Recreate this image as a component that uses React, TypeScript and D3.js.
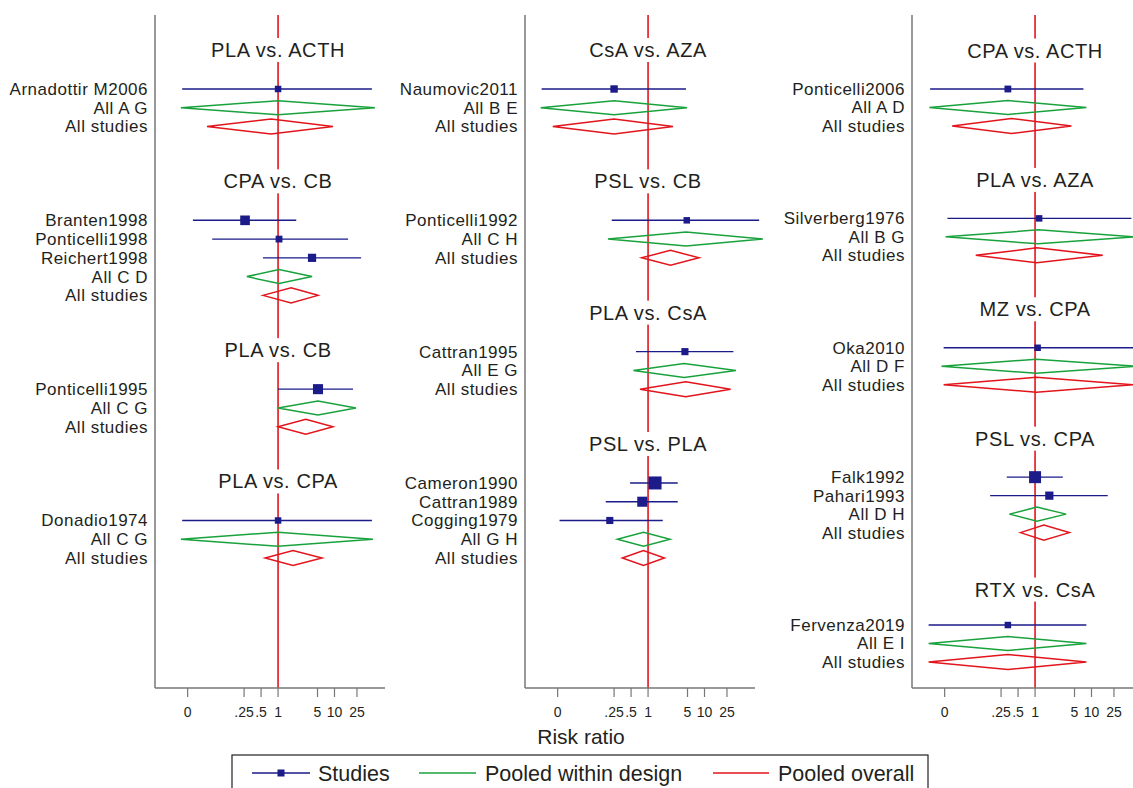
import React from "react";
import * as d3 from "d3";

// comparison headers: panel column, row slot, text
const titles = [
  { panel: 0, row: 0, text: "PLA vs. ACTH" },
  { panel: 0, row: 7, text: "CPA vs. CB" },
  { panel: 0, row: 16, text: "PLA vs. CB" },
  { panel: 0, row: 23, text: "PLA vs. CPA" },
  { panel: 1, row: 0, text: "CsA vs. AZA" },
  { panel: 1, row: 7, text: "PSL vs. CB" },
  { panel: 1, row: 14, text: "PLA vs. CsA" },
  { panel: 1, row: 21, text: "PSL vs. PLA" },
  { panel: 2, row: 0, text: "CPA vs. ACTH" },
  { panel: 2, row: 7, text: "PLA vs. AZA" },
  { panel: 2, row: 14, text: "MZ vs. CPA" },
  { panel: 2, row: 21, text: "PSL vs. CPA" },
  { panel: 2, row: 29, text: "RTX vs. CsA" },
];

// individual studies (risk ratio, 95% CI, weight)
const studies = [
  { panel: 0, row: 2, label: "Arnadottir M2006", est: 1.0, lo: 0.02, hi: 46, w: 1 },
  { panel: 0, row: 9, label: "Branten1998", est: 0.26, lo: 0.031, hi: 2.1, w: 2.2 },
  { panel: 0, row: 10, label: "Ponticelli1998", est: 1.04, lo: 0.068, hi: 17.4, w: 1.1 },
  { panel: 0, row: 11, label: "Reichert1998", est: 4.0, lo: 0.54, hi: 29.6, w: 1.6 },
  { panel: 0, row: 18, label: "Ponticelli1995", est: 5.1, lo: 1.0, hi: 21.3, w: 2.4 },
  { panel: 0, row: 25, label: "Donadio1974", est: 1.0, lo: 0.02, hi: 46, w: 1 },
  { panel: 1, row: 2, label: "Naumovic2011", est: 0.25, lo: 0.013, hi: 4.7, w: 1.3 },
  { panel: 1, row: 9, label: "Ponticelli1992", est: 4.85, lo: 0.227, hi: 93, w: 1 },
  { panel: 1, row: 16, label: "Cattran1995", est: 4.5, lo: 0.61, hi: 32.5, w: 1.2 },
  { panel: 1, row: 23, label: "Cameron1990", est: 1.33, lo: 0.48, hi: 3.36, w: 4 },
  { panel: 1, row: 24, label: "Cattran1989", est: 0.79, lo: 0.178, hi: 3.36, w: 2.4 },
  { panel: 1, row: 25, label: "Cogging1979", est: 0.21, lo: 0.027, hi: 1.82, w: 1.2 },
  { panel: 2, row: 2, label: "Ponticelli2006", est: 0.33, lo: 0.0138, hi: 7.2, w: 1.1 },
  { panel: 2, row: 9, label: "Silverberg1976", est: 1.18, lo: 0.028, hi: 51, w: 1 },
  { panel: 2, row: 16, label: "Oka2010", est: 1.11, lo: 0.024, hi: 60, w: 1 },
  { panel: 2, row: 23, label: "Falk1992", est: 1.0, lo: 0.315, hi: 3.1, w: 3.4 },
  { panel: 2, row: 24, label: "Pahari1993", est: 1.79, lo: 0.16, hi: 19.4, w: 1.6 },
  { panel: 2, row: 31, label: "Fervenza2019", est: 0.33, lo: 0.013, hi: 8.1, w: 1 },
];

// pooled within design
const designPooled = [
  { panel: 0, row: 3, label: "All A G", est: 1.0, lo: 0.019, hi: 52 },
  { panel: 0, row: 12, label: "All C D", est: 1.04, lo: 0.28, hi: 4.0 },
  { panel: 0, row: 19, label: "All C G", est: 5.1, lo: 1.0, hi: 24 },
  { panel: 0, row: 26, label: "All C G", est: 1.0, lo: 0.019, hi: 48 },
  { panel: 1, row: 3, label: "All B E", est: 0.25, lo: 0.0125, hi: 4.9 },
  { panel: 1, row: 10, label: "All C H", est: 4.7, lo: 0.195, hi: 108 },
  { panel: 1, row: 17, label: "All E G", est: 4.35, lo: 0.55, hi: 36 },
  { panel: 1, row: 26, label: "All G H", est: 0.83, lo: 0.286, hi: 2.45 },
  { panel: 2, row: 3, label: "All A D", est: 0.33, lo: 0.0134, hi: 8.1 },
  { panel: 2, row: 10, label: "All B G", est: 1.14, lo: 0.026, hi: 60 },
  { panel: 2, row: 17, label: "All D F", est: 1.05, lo: 0.022, hi: 62 },
  { panel: 2, row: 25, label: "All D H", est: 1.08, lo: 0.35, hi: 3.55 },
  { panel: 2, row: 32, label: "All E I", est: 0.33, lo: 0.013, hi: 8.1 },
];

// pooled overall ("All studies")
const overallPooled = [
  { panel: 0, row: 4, est: 0.75, lo: 0.055, hi: 9.4 },
  { panel: 0, row: 13, est: 1.7, lo: 0.54, hi: 5.1 },
  { panel: 0, row: 20, est: 3.1, lo: 1.0, hi: 9.4 },
  { panel: 0, row: 27, est: 1.84, lo: 0.59, hi: 6.0 },
  { panel: 1, row: 4, est: 0.25, lo: 0.0205, hi: 2.77 },
  { panel: 1, row: 11, est: 2.5, lo: 0.77, hi: 8.0 },
  { panel: 1, row: 18, est: 4.65, lo: 0.72, hi: 29 },
  { panel: 1, row: 27, est: 0.83, lo: 0.35, hi: 1.95 },
  { panel: 2, row: 4, est: 0.38, lo: 0.034, hi: 4.4 },
  { panel: 2, row: 11, est: 1.07, lo: 0.089, hi: 15.8 },
  { panel: 2, row: 18, est: 1.05, lo: 0.024, hi: 56 },
  { panel: 2, row: 26, est: 1.43, lo: 0.55, hi: 4.05 },
  { panel: 2, row: 33, est: 0.33, lo: 0.013, hi: 8.1 },
];

const xTicks = [0.025, 0.25, 0.5, 1, 5, 10, 25];
const xTickLabels = ["0", ".25", ".5", "1", "5", "10", "25"];
const panelRows = [27, 27, 33];

const W = 1133;
const H = 788;
const BLUE = "#1b1b8a";
const GREEN = "#19a23c";
const RED = "#e2141c";
const AXIS = "#777";
const INK = "#231f20";
const FONT = "'Liberation Sans', Arial, Helvetica, sans-serif";

const panelLeft = [155, 525, 912];
const plotW = 230;
const top = 15;
const bottom = 688;

const xFor = (p: number) =>
  d3.scaleLog().domain([0.0066, 64]).range([panelLeft[p], panelLeft[p] + 225]);

const yFor = (p: number) =>
  d3.scaleLinear().domain([2, panelRows[p]]).range([89, p === 2 ? 662 : 558]);

const size = d3.scaleSqrt().domain([0, 4]).range([0, 13]);

const diamond = (x: any, y: number, d: any, h = 7) =>
  `M${x(d.lo)},${y}L${x(d.est)},${y - h}L${x(d.hi)},${y}L${x(d.est)},${y + h}Z`;

const Panel = ({ p }: { p: number }) => {
  const x = xFor(p);
  const y = yFor(p);
  const L = panelLeft[p];
  const labelX = L - 7;
  const one = x(1);
  const labelStyle: any = { fontSize: 17, letterSpacing: 0.5, fill: INK };
  return (
    <g>
      <line x1={one} x2={one} y1={top} y2={bottom} stroke={RED} strokeWidth={1.6} />
      {titles
        .filter((t) => t.panel === p)
        .map((t, i) => {
          const ty = y(t.row) - 1.5 + (p === 2 && t.row > 25 ? 3 : 0);
          return (
            <g key={"t" + i}>
              <rect x={one - 15} y={ty - 12} width={30} height={24} fill="#fff" />
              <text
                x={one}
                y={ty}
                dy="0.35em"
                textAnchor="middle"
                style={{ fontSize: 20, letterSpacing: 0.6, fill: INK }}
              >
                {t.text}
              </text>
            </g>
          );
        })}
      {studies
        .filter((d) => d.panel === p)
        .map((d, i) => {
          const s = size(d.w);
          return (
            <g key={"s" + i}>
              <text x={labelX} y={y(d.row)} dy="0.35em" textAnchor="end" style={labelStyle}>
                {d.label}
              </text>
              <line x1={x(d.lo)} x2={x(d.hi)} y1={y(d.row)} y2={y(d.row)} stroke={BLUE} strokeWidth={1.4} />
              <rect x={x(d.est) - s / 2} y={y(d.row) - s / 2} width={s} height={s} fill={BLUE} />
            </g>
          );
        })}
      {designPooled
        .filter((d) => d.panel === p)
        .map((d, i) => (
          <g key={"d" + i}>
            <text x={labelX} y={y(d.row)} dy="0.35em" textAnchor="end" style={labelStyle}>
              {d.label}
            </text>
            <path d={diamond(x, y(d.row), d)} fill="none" stroke={GREEN} strokeWidth={1.5} />
          </g>
        ))}
      {overallPooled
        .filter((d) => d.panel === p)
        .map((d, i) => (
          <g key={"o" + i}>
            <text x={labelX} y={y(d.row)} dy="0.35em" textAnchor="end" style={labelStyle}>
              All studies
            </text>
            <path d={diamond(x, y(d.row), d, 7.5)} fill="none" stroke={RED} strokeWidth={1.5} />
          </g>
        ))}
      <line x1={L} x2={L} y1={top} y2={bottom} stroke={AXIS} strokeWidth={1.5} />
      <line x1={L} x2={L + plotW} y1={bottom} y2={bottom} stroke={AXIS} strokeWidth={1.5} />
      {xTicks.map((t, i) => (
        <g key={"x" + i}>
          <line x1={x(t)} x2={x(t)} y1={bottom} y2={bottom + 9} stroke={AXIS} strokeWidth={1.2} />
          <text x={x(t)} y={712} dy="0.35em" textAnchor="middle" style={{ fontSize: 14, fill: INK }}>
            {xTickLabels[i]}
          </text>
        </g>
      ))}
    </g>
  );
};

export default function App() {
  const legendText: any = { fontSize: 21.5, fill: INK };
  return (
    <svg
      width={W}
      height={H}
      style={{ position: "absolute", left: 0, top: 0, background: "#fff", fontFamily: FONT }}
    >
      <rect width={W} height={H} fill="#fff" />
      {[0, 1, 2].map((p) => (
        <Panel key={p} p={p} />
      ))}
      <text x={581} y={737} dy="0.35em" textAnchor="middle" style={{ fontSize: 21, fill: INK }}>
        Risk ratio
      </text>
      <g>
        <rect x={232} y={755} width={696} height={45} fill="none" stroke={INK} strokeWidth={1.2} />
        <line x1={252} x2={310} y1={773} y2={773} stroke={BLUE} strokeWidth={1.4} />
        <rect x={277.5} y={769.5} width={7} height={7} fill={BLUE} />
        <text x={318} y={773} dy="0.35em" style={legendText}>
          Studies
        </text>
        <line x1={419} x2={476} y1={773} y2={773} stroke={GREEN} strokeWidth={1.5} />
        <text x={485} y={773} dy="0.35em" style={legendText}>
          Pooled within design
        </text>
        <line x1={713} x2={769} y1={773} y2={773} stroke={RED} strokeWidth={1.5} />
        <text x={778} y={773} dy="0.35em" style={legendText}>
          Pooled overall
        </text>
      </g>
    </svg>
  );
}
